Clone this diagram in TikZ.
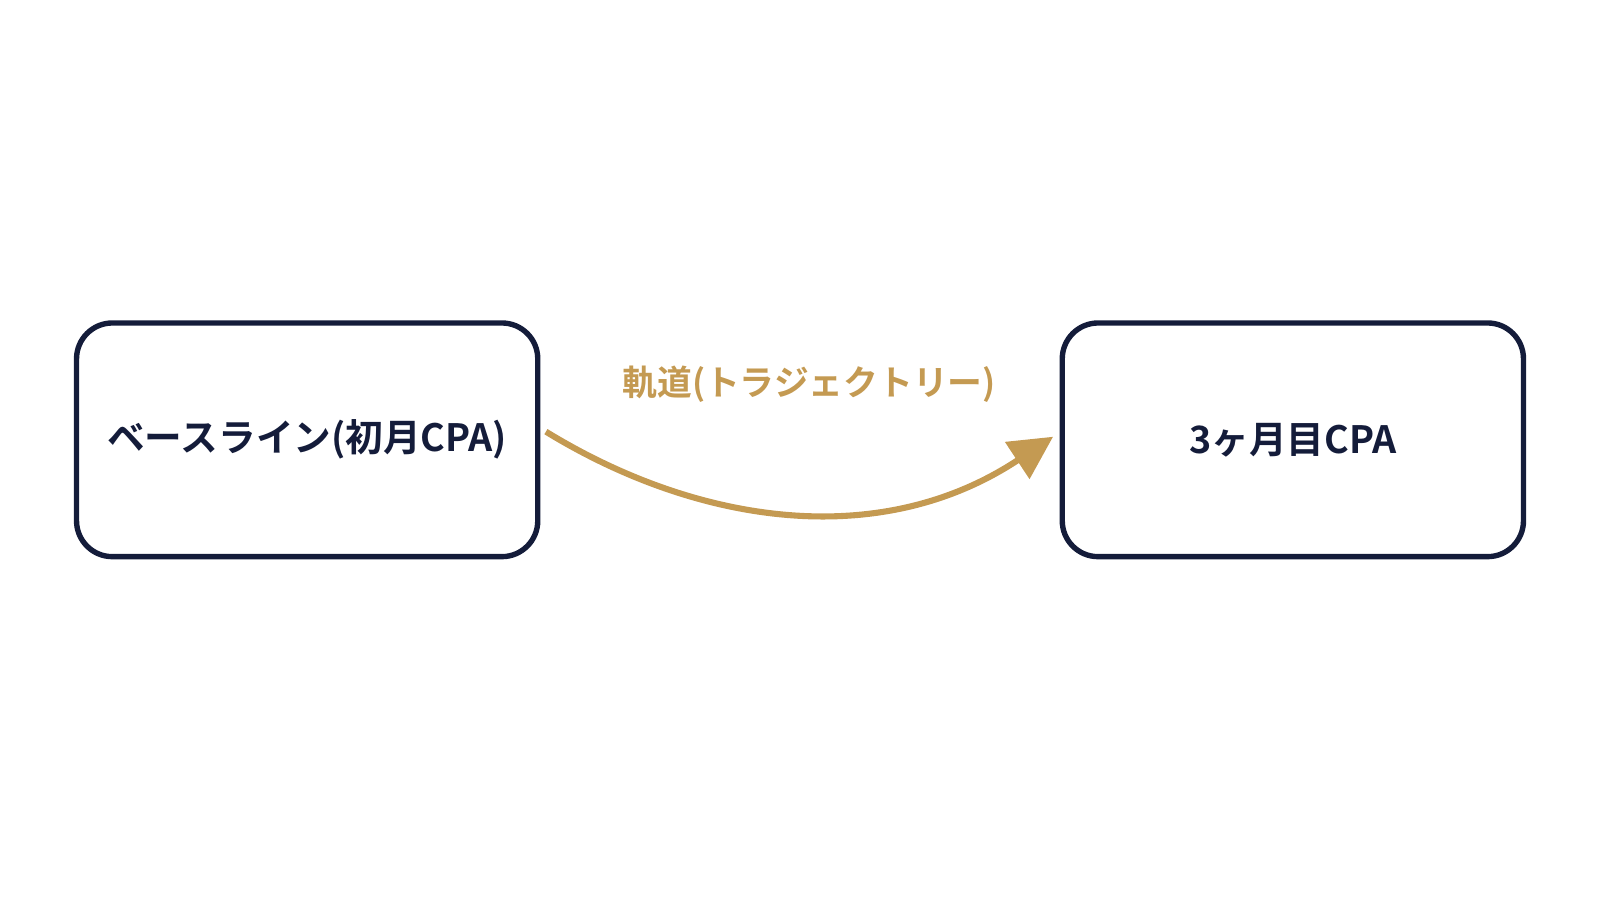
\documentclass[tikz,border=0pt]{standalone}
\usepackage{fontspec}
\setmainfont{Noto Sans CJK JP}[BoldFont={* Bold}]
\usetikzlibrary{positioning,arrows.meta}
\definecolor{navy}{HTML}{141C3A}
\definecolor{gold}{HTML}{C49A52}
\begin{document}
\begin{tikzpicture}
  [
    >={Triangle[length=12pt,width=12pt]},
    box/.style  = {draw=navy, line width=1.5pt, rounded corners=10pt,
                   minimum width=4.52cm, minimum height=2.29cm, inner sep=2pt,
                   text=navy, font=\bfseries\fontsize{10.5pt}{13pt}\selectfont},
  ]
  \useasboundingbox (0,0) rectangle (15.68,8.82);

  % the two stages
  \node (base) at (3.01,4.51) [box] {ベースライン(初月CPA)};
  \node (third) at (12.67,4.51) [box] {3ヶ月目CPA};

  % trajectory
  \coordinate (start) at (5.35,4.59);
  \coordinate (end) at (10.32,4.54);
  \draw[->, gold, line width=1.7pt]
    (start) .. controls (6.8,3.7) and (8.6,3.4) .. (end);
  \node (traj) at (7.93,5.05) [text=gold, font=\bfseries\fontsize{9.7pt}{12pt}\selectfont]
    {軌道(トラジェクトリー)};
\end{tikzpicture}
\end{document}
